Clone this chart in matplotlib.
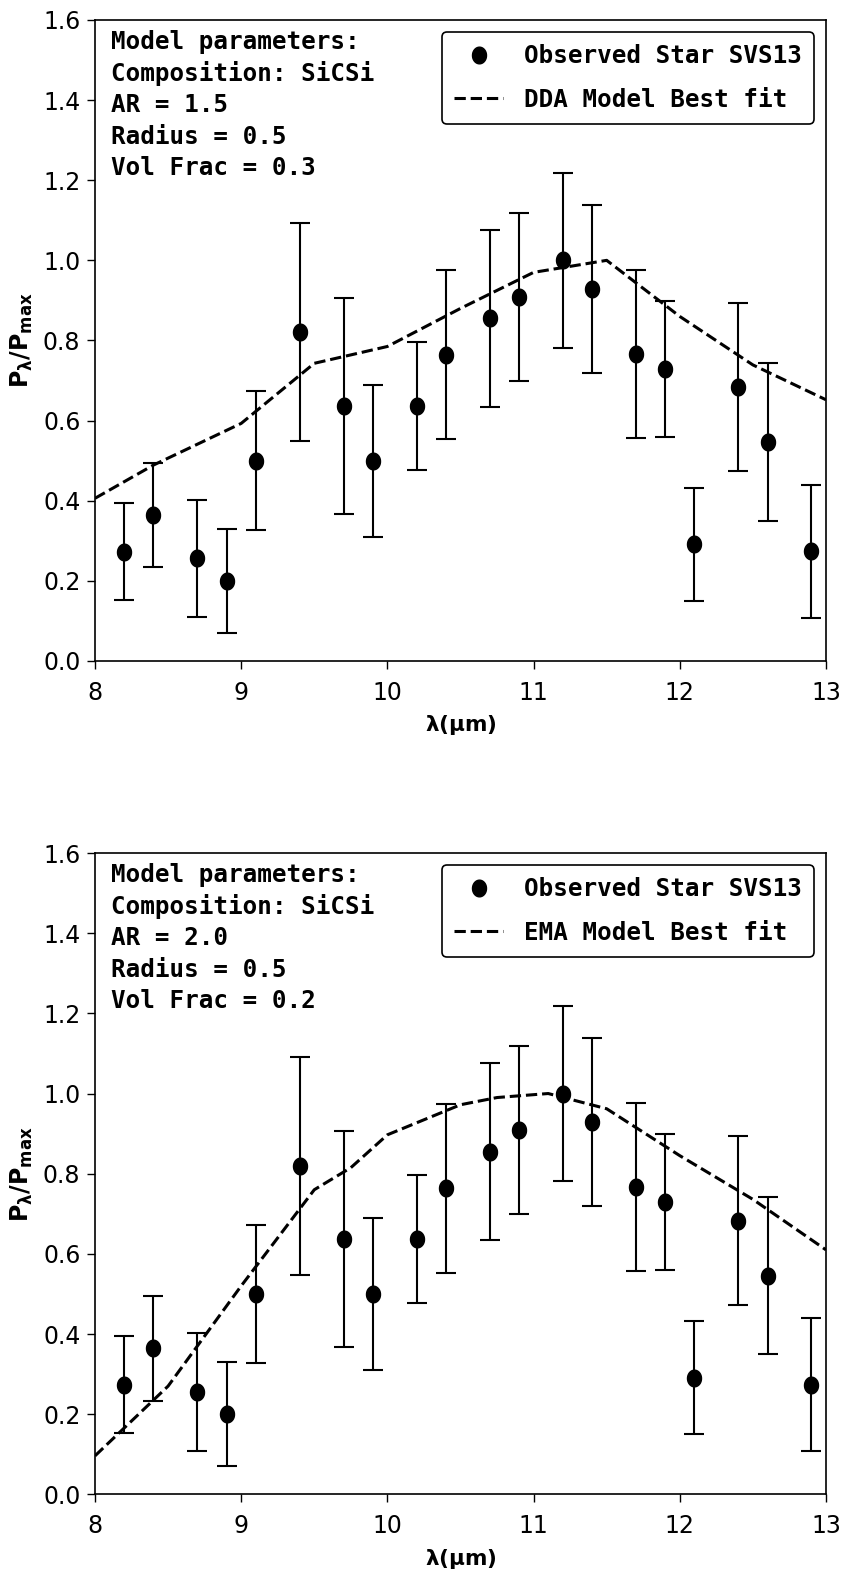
import numpy as np
import matplotlib
matplotlib.use('Agg')
import matplotlib.pyplot as plt

# datos observados (SVS13)
lam = [8.2, 8.4, 8.7, 8.9, 9.1, 9.4, 9.7, 9.9, 10.2, 10.4,
       10.7, 10.9, 11.2, 11.4, 11.7, 11.9, 12.1, 12.4, 12.6, 12.9]
pol = [0.273, 0.364, 0.256, 0.200, 0.500, 0.820, 0.637, 0.500, 0.637, 0.764,
       0.855, 0.909, 1.000, 0.929, 0.766, 0.729, 0.291, 0.683, 0.546, 0.274]
err = [0.121, 0.130, 0.147, 0.130, 0.173, 0.272, 0.270, 0.190, 0.160, 0.211,
       0.220, 0.209, 0.218, 0.210, 0.210, 0.170, 0.141, 0.210, 0.197, 0.166]

# modelos
lam_dda = [8.0, 8.4, 9.0, 9.5, 10.0, 10.5, 11.0, 11.5, 12.0, 12.5, 13.0]
pol_dda = [0.406, 0.489, 0.593, 0.743, 0.785, 0.880, 0.970, 1.000, 0.860, 0.739, 0.652]

lam_ema = [8.0, 8.5, 9.0, 9.5, 9.75, 10.0, 10.5, 10.75, 11.1, 11.5, 12.0, 12.5, 13.0]
pol_ema = [0.096, 0.270, 0.520, 0.760, 0.815, 0.897, 0.972, 0.990, 1.000, 0.962, 0.845, 0.736, 0.610]

paneles = [
    ('DDA Model Best fit', lam_dda, pol_dda, '1.5', '0.3'),
    ('EMA Model Best fit', lam_ema, pol_ema, '2.0', '0.2'),
]

plt.rcParams['font.family'] = 'DejaVu Sans'

# marcador eliptico (la imagen original esta estirada en vertical)
t = np.linspace(0, 2 * np.pi, 60)
elipse = np.column_stack([0.84 * np.cos(t), np.sin(t)])

mono = {'family': 'DejaVu Sans Mono', 'weight': 'bold', 'size': 17.5}

fig = plt.figure(figsize=(8.45, 15.73), dpi=100)
posiciones = [[0.1124, 0.5798, 0.8651, 0.4075],
              [0.1124, 0.0500, 0.8651, 0.4077]]

for (etiqueta, xm, ym, ar, vf), pos in zip(paneles, posiciones):
    ax = fig.add_axes(pos)
    ax.errorbar(lam, pol, yerr=err, fmt='none', ecolor='k', elinewidth=1.5,
                capsize=7, capthick=1.5)
    obs, = ax.plot(lam, pol, linestyle='none', marker=elipse, markersize=12,
                   color='k', label='Observed Star SVS13')
    mod, = ax.plot(xm, ym, 'k--', lw=2.2, label=etiqueta)

    ax.set_xlim(8, 13)
    ax.set_ylim(0, 1.6)
    ax.set_xticks([8, 9, 10, 11, 12, 13])
    ax.set_yticks(np.arange(0, 1.61, 0.2))
    ax.yaxis.set_major_formatter(matplotlib.ticker.FormatStrFormatter('%.1f'))
    ax.tick_params(labelsize=17, length=5.5, width=1)
    ax.tick_params(axis='x', pad=9)
    ax.tick_params(axis='y', pad=5)
    for s in ax.spines.values():
        s.set_linewidth(1.2)

    ax.set_xlabel(r'$\mathbf{\lambda(\mu m)}$', fontsize=15.5, labelpad=6)
    ax.set_ylabel(r'$\mathbf{P_{\lambda}/P_{max}}$', fontsize=17, labelpad=6)

    texto = ('Model parameters:\nComposition: SiCSi\nAR = ' + ar +
             '\nRadius = 0.5\nVol Frac = ' + vf)
    ax.text(0.022, 0.985, texto, transform=ax.transAxes, va='top', ha='left',
            fontdict=mono, linespacing=1.38)

    leg = ax.legend(handles=[obs, mod], loc='upper right', prop=mono,
                    framealpha=1, edgecolor='k', fancybox=True,
                    labelspacing=0.8, borderpad=0.5, handletextpad=0.86)
    leg.get_frame().set_linewidth(1.2)

plt.savefig('out.png', dpi=100)
